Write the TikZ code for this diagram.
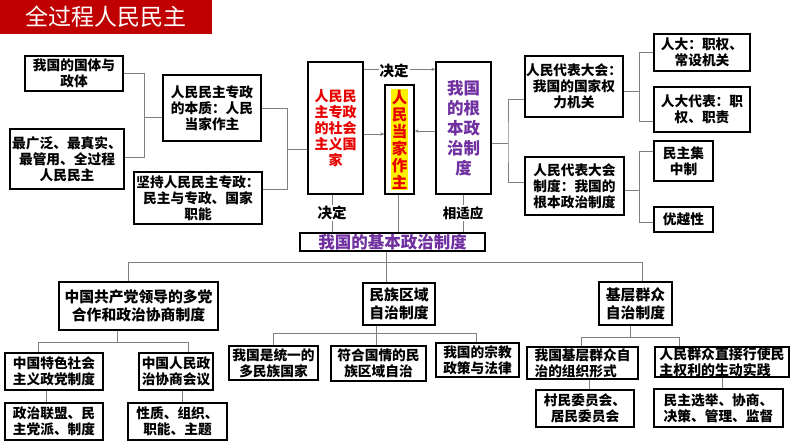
\documentclass[tikz,border=0pt]{standalone}
\usepackage{fontspec}
\usepackage{tikz}
\usetikzlibrary{arrows.meta,positioning,calc}
\setmainfont{Noto Sans CJK SC}
\definecolor{titlered}{HTML}{C00000}
\definecolor{linkgray}{HTML}{7F7F7F}
\definecolor{deeppurple}{HTML}{7030A0}
\definecolor{textred}{HTML}{E80000}

\begin{document}
\begin{tikzpicture}[x=1pt,y=-1pt,
  box/.style={draw=black,line width=1.3pt,fill=white,inner sep=0pt,align=center,
    font=\bfseries\fontsize{13.7}{16}\selectfont},
  bigbox/.style={box,font=\bfseries\fontsize{14.8}{18}\selectfont},
  link/.style={draw=linkgray,line width=0.9pt},
  tip/.style={link,-{Stealth[length=4pt,width=3.5pt]}},
  lbl/.style={fill=white,inner sep=1pt,font=\bfseries\fontsize{14.5}{16}\selectfont}]
\useasboundingbox (0,0) rectangle (794,447);
\node[fill=titlered,minimum width=212,minimum height=34,inner sep=0pt,text=white,
  font=\fontsize{23}{26}\selectfont] (title) at (106,17) {全过程人民民主};

% upper part
\node[box,minimum width=98,minimum height=35] (guoti) at (74,73.5) {我国的国体与\\政体};
\node[box,minimum width=114,minimum height=60] (zuiguang) at (67,159) {最广泛、最真实、\\最管用、全过程\\人民民主};
\node[box,minimum width=98,minimum height=66] (benzhi) at (212,108) {人民民主专政\\的本质：人民\\当家作主};
\node[box,minimum width=128,minimum height=52] (jianchi) at (198,198) {坚持人民民主专政：\\民主与专政、国家\\职能};
\node[box,minimum width=55,minimum height=132,text=textred,
  font=\bfseries\fontsize{14}{16}\selectfont] (guojia) at (335.5,128) {人民民\\主专政\\的社会\\主义国\\家};
\node[box,minimum width=29,minimum height=109] (dangjia) at (399.5,139.5) {};
\node[fill=yellow,inner sep=0.5pt,align=center,text=textred,
  font=\bfseries\fontsize{15.5}{17}\selectfont] (dangjiatext) at (dangjia) {人\\民\\当\\家\\作\\主};
\node[box,minimum width=55,minimum height=132,text=deeppurple,
  font=\bfseries\fontsize{16.5}{20}\selectfont] (genben) at (463.5,128) {我国\\的根\\本政\\治制\\度};
\node[box,minimum width=185,minimum height=18,text=deeppurple,line width=1.5pt,
  font=\bfseries\fontsize{16.5}{18}\selectfont] (jiben) at (392.5,242) {我国的基本政治制度};

\node[box,minimum width=98,minimum height=61] (rendahui) at (574,86.5) {人民代表大会：\\我国的国家权\\力机关};
\node[box,minimum width=99,minimum height=58,align=left] (rendazhidu) at (574.5,186) {人民代表大会\\制度：我国的\\根本政治制度};
\node[box,minimum width=96,minimum height=37] (changshe) at (702,52.5) {人大：职权、\\常设机关};
\node[box,minimum width=96,minimum height=45] (daibiao) at (702,109.5) {人大代表：职\\权、职责};
\node[box,minimum width=59,minimum height=40] (jizhong) at (683.5,161) {民主集\\中制};
\node[box,minimum width=59,minimum height=25] (youyue) at (683.5,219.5) {优越性};

\draw[link] (guoti.east) -| (144,117) coordinate (j1) -- (j1 -| benzhi.west);
\draw[link] ($(zuiguang.east)+(0,-2)$) -| (j1);
\draw[link] (benzhi.east) -| (287,149) coordinate (j2) -- (j2 -| guojia.west);
\draw[link] ($(jianchi.east)+(0,-9)$) -| (j2);

\coordinate (g0) at ($(guojia.north east)+(0,8)$);
\draw[tip] (g0) -- (g0 -| genben.west);
\node[lbl] (jueding) at (394,71) {决定};
\coordinate (g1) at ($(guojia.east)+(0,6)$);
\draw[tip] (g1) -- (g1 -| dangjia.west);
\coordinate (g2) at ($(genben.west)+(0,3)$);
\draw[tip] (g2) -- (g2 -| dangjia.east);
\draw[link] ($(guojia.south)+(-3.5,0)$) coordinate (g3) -- (g3 |- jiben.north);
\draw[link] ($(dangjia.south)+(-1.5,0)$) coordinate (g4) -- (g4 |- jiben.north);
\draw[link] (genben.south) -- (genben.south |- jiben.north);
\node[lbl] (juedingb) at (332,213) {决定};
\node[lbl,font=\bfseries\fontsize{13.5}{16}\selectfont] (shiying) at (463,213) {相适应};

\draw[link] ($(genben.east)+(0,15)$) -- (508,143) coordinate (j3);
\draw[link] ($(rendahui.west)+(0,12.5)$) -| (j3) |- ($(rendazhidu.west)+(0,-4)$);
\draw[link] ($(rendahui.east)+(0,4.5)$) -- ++(16,0) coordinate (j4);
\draw[link] (changshe.west) -| (j4) |- ($(daibiao.west)+(0,11.5)$);
\draw[link] ($(rendazhidu.east)+(0,4)$) -- ++(15,0) coordinate (j5);
\draw[link] ($(jizhong.west)+(0,-10)$) -| (j5) |- ($(youyue.west)+(0,2.5)$);

% lower part
\node[bigbox,minimum width=159,minimum height=48] (duodang) at (138.5,306) {中国共产党领导的多党\\合作和政治协商制度};
\node[bigbox,minimum width=72,minimum height=42] (minzu) at (399,304) {民族区域\\自治制度};
\node[bigbox,minimum width=73,minimum height=43] (jiceng) at (635.5,303.5) {基层群众\\自治制度};
\node[box,minimum width=98,minimum height=37] (tese) at (54,371.5) {中国特色社会\\主义政党制度};
\node[box,minimum width=74,minimum height=37] (zhengxie) at (176,371.5) {中国人民政\\治协商会议};
\node[box,minimum width=98,minimum height=37] (lianmeng) at (54,421.5) {政治联盟、民\\主党派、制度};
\node[box,minimum width=99,minimum height=37] (xingzhi) at (177.5,421.5) {性质、组织、\\职能、主题};
\node[box,minimum width=89,minimum height=34] (tongyi) at (273.5,363) {我国是统一的\\多民族国家};
\node[box,minimum width=95,minimum height=35] (fuhe) at (378.5,363.5) {符合国情的民\\族区域自治};
\node[box,minimum width=83,minimum height=34] (zongjiao) at (477.5,360) {我国的宗教\\政策与法律};
\node[box,minimum width=111,minimum height=32,align=left] (zuzhi) at (582.5,363) {我国基层群众自\\治的组织形式};
\node[box,minimum width=134,minimum height=30,align=left,
  font=\bfseries\fontsize{13.9}{16}\selectfont] (shijian) at (722,362) {人民群众直接行使民\\主权利的生动实践};
\node[box,minimum width=98,minimum height=37] (cunmin) at (585,408.5) {村民委员会、\\居民委员会};
\node[box,minimum width=129,minimum height=38] (xuanju) at (718.5,408) {民主选举、协商、\\决策、管理、监督};

\draw[link] (jiben.south -| 386,0) coordinate (b0) -- (b0 |- minzu.north);
\draw[link] ($(duodang.north)+(-10.5,0)$) -- ++(0,-19) -| ($(jiceng.north)+(6.5,0)$);
\draw[link] ($(duodang.south)+(-21.5,0)$) -- ++(0,12) coordinate (b1);
\draw[link] ($(tese.north)+(-16,0)$) |- (b1) -| ($(zhengxie.north)+(12,0)$);
\draw[link] ($(tese.south)+(-8,0)$) -- ($(lianmeng.north)+(-8,0)$);
\draw[link] ($(zhengxie.south)+(6,0)$) coordinate (b2) -- (b2 |- xingzhi.north);
\draw[link] ($(minzu.south)+(-23,0)$) coordinate (b3) -- (b3 |- fuhe.north);
\draw[link] (tongyi.north) |- ($(minzu.south)+(-23,8)$) -| ($(zongjiao.north)+(-1.5,0)$);
\draw[link] ($(jiceng.south)+(-5.5,0)$) -- ++(0,12) coordinate (b4);
\draw[link] ($(zuzhi.north)+(-1.5,0)$) |- (b4) -| ($(shijian.north)+(-43,0)$);
\draw[link] ($(zuzhi.south)+(6.5,0)$) coordinate (b5) -- (b5 |- cunmin.north);
\draw[link] (shijian.south) -- (shijian.south |- xuanju.north);
\end{tikzpicture}
\end{document}
